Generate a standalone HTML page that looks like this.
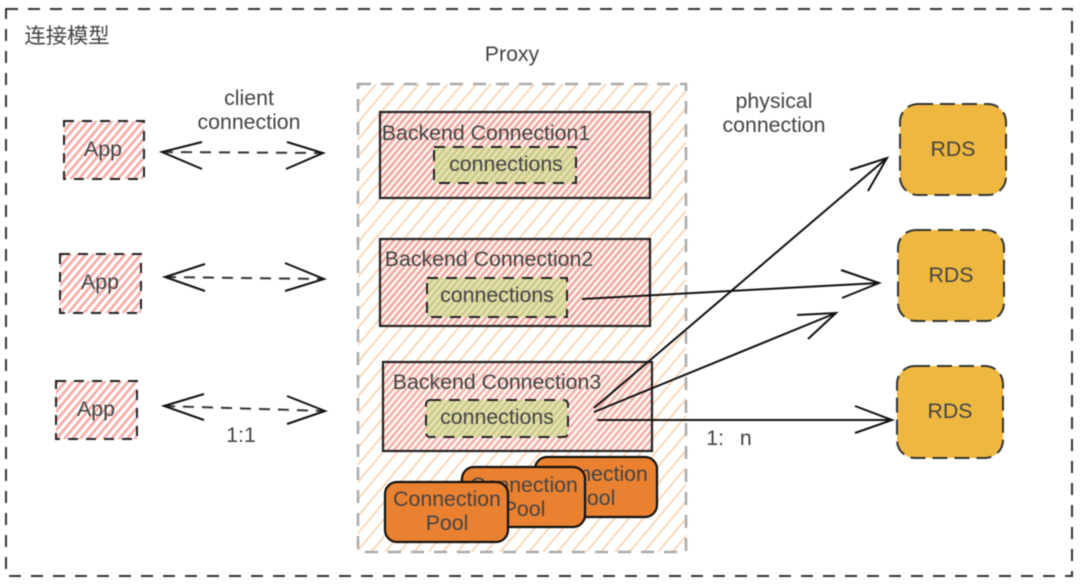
<!DOCTYPE html>
<html><head><meta charset="utf-8"><style>
html,body{margin:0;padding:0;background:#fff;width:1080px;height:585px;overflow:hidden}
svg{display:block;filter:blur(.45px)}
text{font-family:"Liberation Sans","Noto Sans CJK SC",sans-serif;font-size:21.3px;fill:#444;text-anchor:middle}
.box{stroke:#222;stroke-width:2.2;fill:url(#pink)}
.in{stroke:#222;stroke-width:2;stroke-dasharray:11 8;fill:url(#green)}
.app{stroke:#222;stroke-width:2;stroke-dasharray:10 8;fill:url(#pink2)}
.rds{stroke:#333;stroke-width:2;stroke-dasharray:15 7;fill:#eeb840}
.pool{stroke:#111;stroke-width:2.2;fill:#ea8131}
.l{fill:none;stroke:#111;stroke-width:2}
.d{fill:none;stroke:#333;stroke-width:2;stroke-dasharray:11 8}
</style></head><body>
<svg width="1080" height="585" viewBox="0 0 1080 585" xmlns="http://www.w3.org/2000/svg">
<defs>
<pattern id="pr" width="11" height="11" patternUnits="userSpaceOnUse" patternTransform="rotate(-50)"><rect width="11" height="2" fill="#fad9bc"/></pattern>
<pattern id="pink" width="5" height="5" patternUnits="userSpaceOnUse" patternTransform="rotate(-50)"><rect width="5" height="5" fill="#fdf5ef"/><rect width="5" height="2.4" fill="#f0a6a1"/></pattern>
<pattern id="pink3" width="5" height="5" patternUnits="userSpaceOnUse" patternTransform="rotate(-50)"><rect width="5" height="5" fill="#fef6f1"/><rect width="5" height="2.3" fill="#f2aea8"/></pattern>
<pattern id="pink2" width="6" height="6" patternUnits="userSpaceOnUse" patternTransform="rotate(-50)"><rect width="6" height="2.8" fill="#f4aeaa"/></pattern>
<pattern id="green" width="5" height="5" patternUnits="userSpaceOnUse" patternTransform="rotate(-50)"><rect width="5" height="5" fill="#eedfb4"/><rect width="5" height="2.6" fill="#c4cd88"/></pattern>
</defs>

<rect x="6" y="9" width="1066" height="567" fill="none" stroke="#333" stroke-width="2" stroke-dasharray="12 10"/>
<text x="67" y="43">连接模型</text>

<rect x="358" y="84" width="328" height="468" fill="url(#pr)" stroke="#aaa" stroke-width="2.5" stroke-dasharray="13 10"/>
<text x="512" y="61">Proxy</text>

<rect class="box" x="380" y="112" width="270" height="86"/>
<rect class="in" x="434" y="147" width="142" height="36"/>
<text x="486" y="140">Backend Connection1</text>
<text x="506" y="171">connections</text>

<rect class="box" x="380" y="239" width="270" height="87"/>
<rect class="in" x="427" y="278" width="140" height="39"/>
<text x="489" y="266">Backend Connection2</text>
<text x="497" y="302">connections</text>

<rect class="box" x="383" y="362" width="269" height="89" style="fill:url(#pink3)"/>
<rect class="in" x="426" y="400" width="142" height="37" rx="4"/>
<text x="497" y="389">Backend Connection3</text>
<text x="497" y="424">connections</text>

<rect class="pool" x="535" y="457" width="122" height="60" rx="12"/>
<text x="594" y="481">Connection</text><text x="594" y="505">Pool</text>
<rect class="pool" x="462" y="467" width="123" height="60" rx="12"/>
<text x="524" y="492">Connection</text><text x="524" y="516">Pool</text>
<rect class="pool" x="385" y="482" width="123" height="60" rx="12"/>
<text x="447" y="506">Connection</text><text x="447" y="530">Pool</text>

<rect class="app" x="64" y="121" width="80" height="58"/><text x="103" y="156">App</text>
<rect class="app" x="60" y="254" width="81" height="59"/><text x="100" y="289">App</text>
<rect class="app" x="56" y="381" width="81" height="58"/><text x="96" y="416">App</text>

<path class="d" d="M162 152L322 153"/><path class="l" d="M202 142L162 152L202 169M287 142L323 153L286 169"/>
<path class="d" d="M165 277L323 279"/><path class="l" d="M205 264L165 277L205 291M285 263L324 279L285 291"/>
<path class="d" d="M164 406L324 411"/><path class="l" d="M204 394L164 406L204 420M287 396L325 411L287 424"/>

<text x="249" y="105">client</text><text x="249" y="129">connection</text>
<text x="241" y="442">1:1</text>
<text x="774" y="108">physical</text><text x="774" y="132">connection</text>
<text x="729" y="445" xml:space="preserve" style="word-spacing:2px">1:&#160;&#160;n</text>

<path class="l" d="M594 408L887 158M850 170L887 158L868 191"/>
<path class="l" d="M582 299L879 283M841 270L879 283L842 298"/>
<path class="l" d="M594 412L836 313M797 315L836 313L808 339"/>
<path class="l" d="M597 420H892M855 406L892 420L855 433"/>

<rect class="rds" x="900" y="104" width="106" height="91" rx="18"/><text x="953" y="156">RDS</text>
<rect class="rds" x="898" y="230" width="106" height="91" rx="18"/><text x="951" y="282">RDS</text>
<rect class="rds" x="897" y="366" width="106" height="92" rx="18"/><text x="950" y="418">RDS</text>
</svg>
</body></html>
